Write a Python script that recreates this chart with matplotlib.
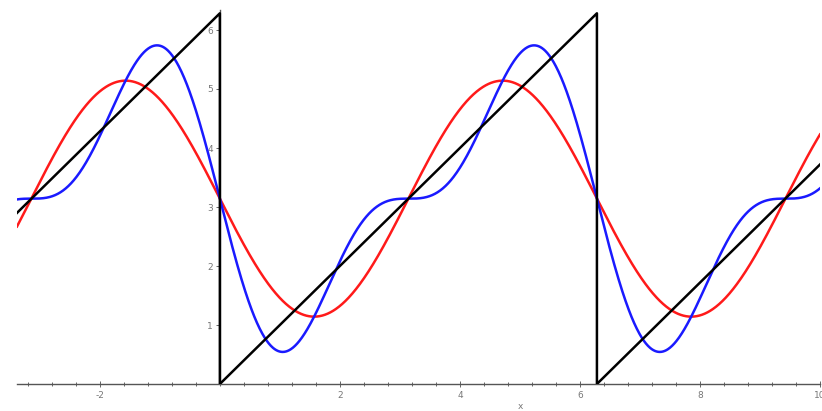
import numpy as np
import matplotlib
matplotlib.use("Agg")
import matplotlib.pyplot as plt
from matplotlib.ticker import MultipleLocator

# ---- data ----
x_range = [-3.38, 10.0]
# sawtooth (black) vertices: rises to 2*pi, drops to 0 at x=0 and x=2*pi
saw_x = [-3.38, 0.0, 0.0, 6.283, 6.283, 10.0]
saw_y = [2.90, 6.283, 0.0, 6.283, 0.0, 3.72]
# Fourier partial sums: mean level and sine coefficients
mean_level = 3.1416
red_sine_coeffs = [-2.0]          # 1-term approximation
blue_sine_coeffs = [-2.0, -1.0]   # 2-term approximation
x_ticks = [-2, 2, 4, 6, 8, 10]
y_ticks = [1, 2, 3, 4, 5, 6]


def partial_sum(xs, coeffs):
    ys = np.full_like(xs, mean_level)
    for n, b in enumerate(coeffs, start=1):
        ys += b * np.sin(n * xs)
    return ys


fig = plt.figure(figsize=(8.22, 4.11), dpi=100)
ax = fig.add_axes([17 / 822, 27 / 411, 803 / 822, 374 / 411])

xs = np.linspace(x_range[0], x_range[1], 1500)
ax.plot(xs, partial_sum(xs, red_sine_coeffs), color="#ff1a1a", lw=1.8, zorder=3)
ax.plot(xs, partial_sum(xs, blue_sine_coeffs), color="#1a1aff", lw=1.8, zorder=3)
ax.plot(saw_x, saw_y, color="black", lw=1.8, zorder=4)

ax.set_xlim(x_range[0], x_range[1])
ax.set_ylim(0, 374 / 59)

for s in ["top", "right"]:
    ax.spines[s].set_visible(False)
ax.spines["left"].set_position(("data", 0))
ax.spines["bottom"].set_position(("data", 0))
for s in ["left", "bottom"]:
    ax.spines[s].set_color("#555555")
    ax.spines[s].set_linewidth(1.0)

ax.set_xticks(x_ticks)
ax.set_xticklabels([str(t) for t in x_ticks])
ax.xaxis.set_minor_locator(MultipleLocator(0.4))
ax.set_yticks(y_ticks)
ax.set_yticklabels([str(t) for t in y_ticks])
ax.tick_params(axis="x", which="both", direction="inout", length=4, width=0.7,
               color="#666666", labelsize=6.5, labelcolor="#777777", pad=3)
ax.tick_params(axis="x", which="minor", length=3)
ax.tick_params(axis="y", which="both", direction="out", length=3, width=0.7,
               color="#666666", labelsize=6.5, labelcolor="#777777", pad=2)

fig.text(520 / 822, 1 - 406 / 411, "x", fontsize=6.5, color="#777777",
         ha="center", va="center")

fig.savefig("out.png", dpi=100)
